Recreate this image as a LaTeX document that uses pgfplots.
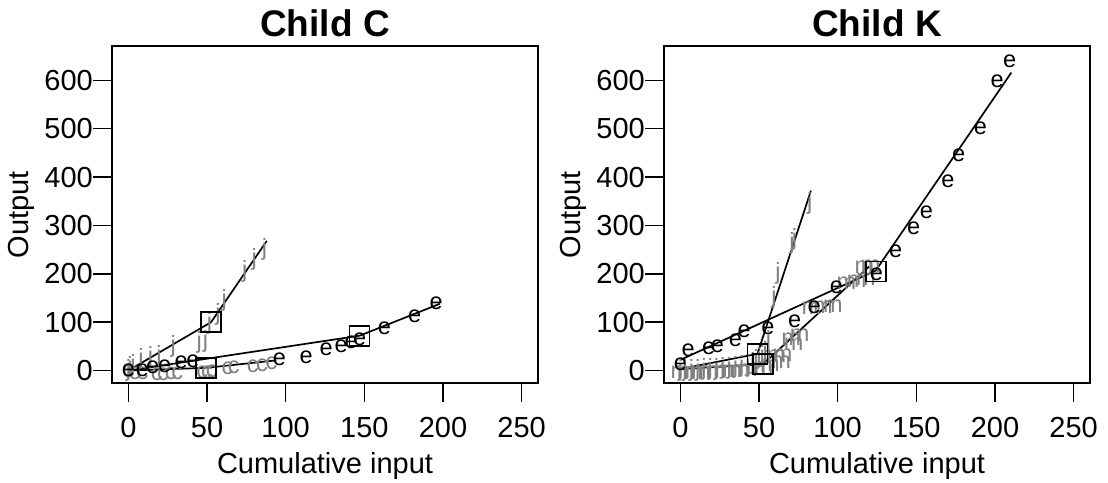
\documentclass[border=0pt]{standalone}
\usepackage{fontspec}
\setmainfont{Liberation Sans}
\usepackage{pgfplots}
\pgfplotsset{compat=1.18}

\definecolor{ltrgray}{gray}{0.5}

\pgfplotsset{
  panel/.style={
    scale only axis,
    width=426pt, height=337pt,
    anchor=south west,
    xmin=-10.4, xmax=260.4,
    ymin=-25.8, ymax=671,
    xtick={0,50,100,150,200,250},
    ytick={0,100,200,300,400,500,600},
    xtick pos=bottom, ytick pos=left,
    tick align=outside,
    major tick length=19pt,
    axis line style={line width=1.6pt},
    every tick/.style={black, line width=1.6pt},
    /pgf/number format/assume math mode=true,
    ticklabel style={font=\fontsize{29}{29}\selectfont},
    xticklabel style={anchor=north, inner sep=0pt, yshift=-15pt},
    yticklabel style={anchor=east, inner sep=0pt},
    title style={font=\bfseries\fontsize{37}{37}\selectfont,
      at={(axis description cs:0.5,1.011)}, anchor=base},
    xlabel style={font=\fontsize{29}{29}\selectfont,
      at={(axis description cs:0.5,-0.268)}, anchor=base},
    ylabel style={font=\fontsize{29}{29}\selectfont,
      at={(axis description cs:-0.195,0.5)}, anchor=base},
    xlabel={Cumulative input},
    ylabel={Output},
  },
  ltr/.style 2 args={only marks, mark=text, text mark={#1}, text mark as node=true,
    color=#2,
    text mark style={font=\fontsize{23.5}{23.5}\selectfont, text=#2, anchor=base,
      yshift=-6pt, inner sep=0pt}},
  fit/.style={black, line width=1.7pt, mark=none},
  brk/.style={only marks, mark=square, mark size=10pt,
    mark options={black, line width=1.6pt}},
}

\begin{document}
\begin{tikzpicture}
\path[use as bounding box] (0,0) rectangle (1108pt,482pt);

% Child C
\begin{axis}[panel, at={(112pt,99pt)}, title={Child C}]
  \addplot[ltr={c}{ltrgray}] coordinates {
    (0,-3) (4,-6) (9,-7) (18,-8) (22,-8) (27,-7) (31,-6) (47,-4) (50,-4)
    (53,-3) (63,5) (67,7) (79,8) (85,10) (91,15)};
  \addplot[ltr={j}{ltrgray}] coordinates {
    (0,0) (1,6) (3,10) (8,22) (14,26) (19.5,30) (28.5,49) (45,57) (49,59)
    (51.5,97) (57,116) (61,145) (74,204) (80,229) (86.5,251)};
  \addplot[ltr={e}{black}] coordinates {
    (0,0) (9,1) (15.5,5.5) (23,9) (33.5,16) (41,19) (96,22.7) (113,26)
    (125.8,43) (135.3,50) (141.6,57) (147,64) (162.8,86) (182,111) (195.7,138.5)};
  \addplot[fit] coordinates {(0,0) (52.6,100) (88,268)};
  \addplot[fit] coordinates {(0,0) (147,72) (198,138)};
  \addplot[fit] coordinates {(0,0) (49.4,5.5) (94,21)};
  \addplot[brk] coordinates {(52.6,100.6) (147,71.6) (49.4,5.5)};
\end{axis}

% Child K
\begin{axis}[panel, at={(664pt,99pt)}, title={Child K}]
  \addplot[ltr={m}{ltrgray}] coordinates {
    (0,-4) (4,-6) (8,-6) (13,-5) (18,-5) (23,-4) (28,-3) (33,-2) (38,-1)
    (43,0) (48,2) (53,5) (57,10) (61,29) (64,16) (65,32) (70.5,63.5) (72,53)
    (75.8,72) (83.3,129) (90.6,130) (97,132) (105.5,180) (112,184) (118,188)
    (117,212) (121,216)};
  \addplot[ltr={j}{ltrgray}] coordinates {
    (0,0) (3,0) (7,1) (11,1) (15,2) (19,2) (23,3) (27,4) (31,5) (35,6)
    (39,8) (43,10) (46,14) (48,20) (50,24) (52,30) (54,38) (56,60)
    (59.5,150) (62,201) (71,262) (72.5,270) (82.2,346)};
  \addplot[ltr={e}{black}] coordinates {
    (0,12) (5,41) (18,46) (23.5,50) (35,62) (40.5,80) (55.6,86) (72.6,102)
    (85,131) (99.2,172.4) (124.6,198) (136.9,246) (148.3,294) (156.4,326.6)
    (170.1,390.7) (176.9,443.8) (190.7,501) (201.3,597) (209.3,639)};
  \addplot[fit] coordinates {(0,22) (124.2,206.7) (210.4,616)};
  \addplot[fit] coordinates {(0,3) (49,34.5) (83,372)};
  \addplot[fit] coordinates {(0,3) (52.5,13) (120,215)};
  \addplot[brk] coordinates {(124.4,205) (49,34.5) (52.5,13)};
\end{axis}
\end{tikzpicture}
\end{document}
